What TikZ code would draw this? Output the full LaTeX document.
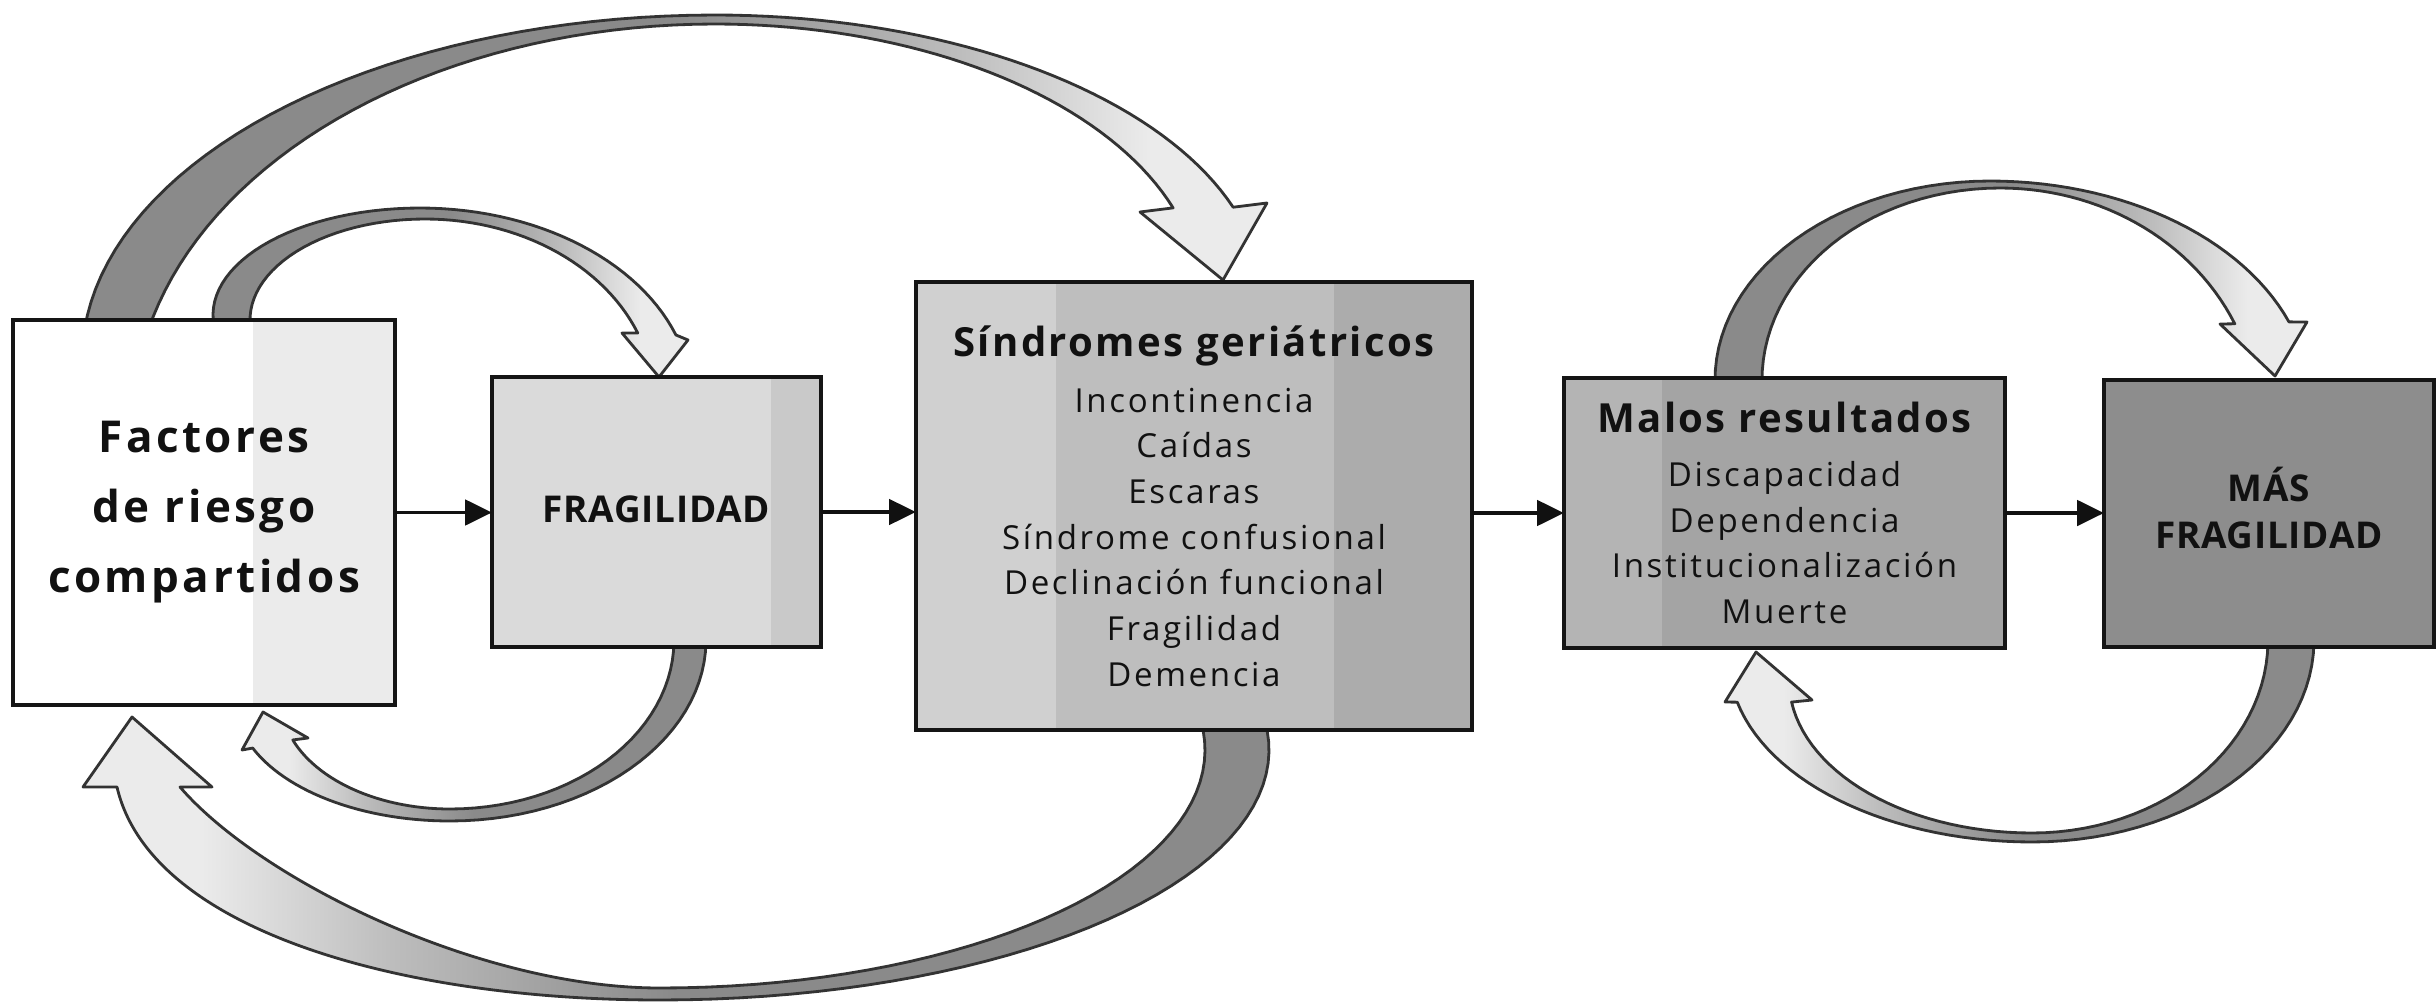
\documentclass[tikz,border=0pt]{standalone}
\usepackage{fontspec}
\setmainfont{Open Sans}
\newfontfamily\fA[LetterSpace=8]{Open Sans}
\newfontfamily\fT[LetterSpace=6]{Open Sans}
\newfontfamily\fI[LetterSpace=8]{Open Sans}
\newfontfamily\fC[LetterSpace=2]{Open Sans}
\usetikzlibrary{arrows.meta}
\definecolor{adark}{HTML}{8A8A8A}
\definecolor{amid}{HTML}{BDBDBD}
\definecolor{alight}{HTML}{EBEBEB}
\definecolor{aline}{HTML}{333333}
\definecolor{boxline}{HTML}{151515}
\definecolor{txt}{HTML}{111111}
\definecolor{fillA}{HTML}{FFFFFF}
\definecolor{stripA}{HTML}{EBEBEB}
\definecolor{fillB}{HTML}{DADADA}
\definecolor{stripB}{HTML}{C9C9C9}
\definecolor{fillCl}{HTML}{D0D0D0}
\definecolor{fillC}{HTML}{BEBEBE}
\definecolor{fillCr}{HTML}{ACACAC}
\definecolor{fillDl}{HTML}{B4B4B4}
\definecolor{fillD}{HTML}{A4A4A4}
\definecolor{fillE}{HTML}{8D8D8D}
\pgfdeclarehorizontalshading{arrowLR}{100bp}{color(0bp)=(adark); color(25bp)=(adark); color(50bp)=(adark); color(62bp)=(amid); color(70bp)=(alight); color(100bp)=(alight)}
\pgfdeclarehorizontalshading{arrowRL}{100bp}{color(0bp)=(alight); color(30bp)=(alight); color(38bp)=(amid); color(50bp)=(adark); color(100bp)=(adark)}
\begin{document}
\begin{tikzpicture}[x=0.01cm, y=-0.01cm,
  carrow/.style={draw=aline, line width=0.8pt, line join=round},
  box/.style={draw=boxline, line width=1.2pt, inner sep=0pt, outer sep=0pt, align=center, text=txt},
  conn/.style={draw=txt, line width=1pt, -{Triangle[length=7.6pt,width=7.2pt]}},
  itemfont/.style={font={\fI\fontsize{9.4pt}{13pt}\selectfont}}]
\useasboundingbox (0,0) rectangle (2436,1006);
\fill[white] (0,0) rectangle (2436,1006);

% 1: Factores -> Sindromes (big, top)
\shadedraw[carrow, shading=arrowLR]
  plot[domain=87:0, samples=40] ({715-633*sin(\x)},{360-345*cos(\x)})
  -- plot[domain=0:71, samples=40] ({715+548*sin(\x)},{300-285*cos(\x)})
  -- (1267,203) -- (1223,280) -- (1140,212)
  -- plot[domain=70.5:0, samples=40] ({715+486*sin(\x)},{300-276*cos(\x)})
  -- plot[domain=0:79, samples=40] ({715-582*sin(\x)},{420-396*cos(\x)})
  -- cycle;

% 2: Factores -> Fragilidad (small, top)
\shadedraw[carrow, shading=arrowLR]
  plot[domain=96:0, samples=30] ({420-207*sin(\x)},{315-107*cos(\x)})
  -- plot[domain=0:70.2, samples=30] ({420+272*sin(\x)},{400-192*cos(\x)})
  -- (688,340) -- (659,377) -- (622,333)
  -- plot[domain=68.3:0, samples=30] ({425+229*sin(\x)},{400-181*cos(\x)})
  -- plot[domain=0:98, samples=30] ({425-175*sin(\x)},{320-101*cos(\x)})
  -- cycle;

% 3: Fragilidad -> Factores (small, bottom)
\shadedraw[carrow, shading=arrowRL]
  plot[domain=92.5:0, samples=30] ({450+256*sin(\x)},{640+181*cos(\x)})
  -- plot[domain=0:66.6, samples=30] ({450-215*sin(\x)},{700+121*cos(\x)})
  -- (242,750) -- (263,712) -- (308,738)
  -- plot[domain=68.5:0, samples=30] ({450-169*sin(\x)},{700+109*cos(\x)})
  -- plot[domain=0:92.7, samples=30] ({450+224*sin(\x)},{640+169*cos(\x)})
  -- cycle;

% 4: Sindromes -> Factores (big, bottom)
\shadedraw[carrow, shading=arrowRL]
  plot[domain=96.9:0, samples=40] ({660+609*sin(\x)},{750+250*cos(\x)})
  .. controls (400,1000) and (150,930) .. (117,787)
  -- (83,787) -- (132,717) -- (212,787) -- (180,787)
  .. controls (260,880) and (480,988) .. (660,988)
  -- plot[domain=0:97.2, samples=40] ({660+545*sin(\x)},{750+238*cos(\x)})
  -- cycle;

% 5: Malos resultados -> Mas fragilidad (top)
\shadedraw[carrow, shading=arrowLR]
  plot[domain=93.5:0, samples=30] ({1990-275*sin(\x)},{380-199*cos(\x)})
  -- plot[domain=0:69.1, samples=30] ({1990+320*sin(\x)},{400-219*cos(\x)})
  -- (2307,322) -- (2275,376) -- (2220,324)
  -- plot[domain=65.5:0, samples=30] ({2000+258*sin(\x)},{420-232*cos(\x)})
  -- plot[domain=0:93.6, samples=30] ({2000-238*sin(\x)},{380-192*cos(\x)})
  -- cycle;

% 6: Mas fragilidad -> Malos resultados (bottom)
\shadedraw[carrow, shading=arrowRL]
  plot[domain=92.3:0, samples=30] ({2032+282*sin(\x)},{640+202*cos(\x)})
  -- plot[domain=0:76.6, samples=30] ({2032-303*sin(\x)},{660+182*cos(\x)})
  -- (1725,702) -- (1756,652) -- (1812,700)
  -- plot[domain=81.7:0, samples=30] ({2032-243*sin(\x)},{680+153*cos(\x)})
  -- plot[domain=0:92.4, samples=30] ({2032+236*sin(\x)},{640+193*cos(\x)})
  -- cycle;

% boxes
\node[box, fill=fillA, minimum width=3.82cm, minimum height=3.85cm,
  font={\fA\bfseries\fontsize{12.5pt}{19.9pt}\selectfont},
  path picture={\fill[stripA] ([xshift=-1.42cm]path picture bounding box.north east) rectangle (path picture bounding box.south east);}]
  (A) at (204,512.5) {Factores\\de riesgo\\compartidos};

\node[box, fill=fillB, minimum width=3.29cm, minimum height=2.70cm, text depth=1.7pt,
  font={\fC\bfseries\fontsize{10.5pt}{13.9pt}\selectfont},
  path picture={\fill[stripB] ([xshift=-0.50cm]path picture bounding box.north east) rectangle (path picture bounding box.south east);}]
  (B) at (656.5,512) {FRAGILIDAD};

\node[box, fill=fillC, minimum width=5.56cm, minimum height=4.48cm, itemfont,
  path picture={\fill[fillCl] (path picture bounding box.north west) rectangle ([xshift=1.40cm]path picture bounding box.south west);
                \fill[fillCr] ([xshift=-1.38cm]path picture bounding box.north east) rectangle (path picture bounding box.south east);}]
  (C) at (1194,506) {{\fT\bfseries\fontsize{11.4pt}{13pt}\selectfont Síndromes geriátricos}\\[2.9pt]
  Incontinencia\\Caídas\\Escaras\\Síndrome confusional\\Declinación funcional\\Fragilidad\\Demencia};

\node[box, fill=fillD, minimum width=4.41cm, minimum height=2.70cm, itemfont,
  path picture={\fill[fillDl] (path picture bounding box.north west) rectangle ([xshift=0.98cm]path picture bounding box.south west);}]
  (D) at (1784.5,513) {{\fT\bfseries\fontsize{11.4pt}{13pt}\selectfont Malos resultados}\\[2.3pt]
  Discapacidad\\Dependencia\\Institucionalización\\Muerte};

\node[box, fill=fillE, minimum width=3.30cm, minimum height=2.67cm, text depth=3.4pt,
  font={\fC\bfseries\fontsize{10.5pt}{13.3pt}\selectfont}]
  (E) at (2269,513.5) {MÁS\\FRAGILIDAD};

% straight connectors
\draw[conn] (A.east) -- (A.east -| B.west);
\draw[conn] (B.east) -- (B.east -| C.west);
\draw[conn] (C.east |- D.west) -- (D.west);
\draw[conn] (D.east) -- (D.east -| E.west);
\end{tikzpicture}
\end{document}
